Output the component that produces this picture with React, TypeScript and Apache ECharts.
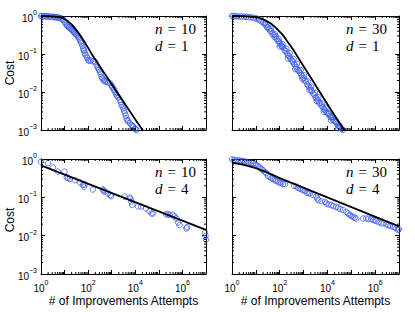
import React, { useEffect, useRef } from "react";
import * as echarts from "echarts";

// Panel meta
const panelN = ["10", "30", "10", "30"];
const panelD = ["1", "1", "4", "4"];

const xTickExponents = [0, 1, 2, 3, 4, 5, 6, 7];
const yTickExponents = [-3, -2, -1, 0];

// n=10, d=1
const p1Scatter: number[][] = [
  [1, 1], [1.1, 0.995], [1.26, 0.99], [1.45, 0.985], [1.7, 0.98], [1.95, 0.975], [2.2, 0.97], [2.6, 0.96],
  [3.1, 0.95], [3.6, 0.94], [4, 0.93], [4.5, 0.925], [5, 0.92], [5.6, 0.9], [6.3, 0.89], [7.2, 0.86],
  [8.3, 0.83], [9, 0.78], [10, 0.7], [11, 0.64], [12.3, 0.58], [13, 0.55], [14.5, 0.52], [15.5, 0.5],
  [17, 0.48], [18.5, 0.46], [20, 0.44], [21.5, 0.42], [23.4, 0.39], [25, 0.37], [27.5, 0.35], [30, 0.335],
  [32, 0.32], [35, 0.3], [38, 0.28], [41, 0.26], [45, 0.23], [48, 0.21], [52, 0.19], [57, 0.165],
  [62, 0.14], [65, 0.13], [68, 0.12], [72, 0.105], [78, 0.095], [87, 0.085], [93, 0.078], [100, 0.069],
  [112, 0.066], [132, 0.067], [160, 0.064], [195, 0.063], [229, 0.051], [250, 0.046], [269, 0.042],
  [290, 0.038], [316, 0.034], [340, 0.03], [372, 0.025], [400, 0.023], [437, 0.021], [470, 0.02],
  [513, 0.019], [603, 0.0186], [708, 0.0178], [832, 0.017], [977, 0.015], [1050, 0.0138], [1148, 0.0126],
  [1250, 0.0113], [1380, 0.0102], [1500, 0.0092], [1622, 0.0083], [1750, 0.0077], [1905, 0.0072],
  [2239, 0.0062], [2450, 0.0054], [2630, 0.0046], [2850, 0.0041], [3090, 0.0037], [3350, 0.0032],
  [3630, 0.0028], [3950, 0.0024], [4266, 0.002], [4600, 0.0018], [5012, 0.0017], [5888, 0.0015],
  [6918, 0.00135], [7500, 0.0013], [8128, 0.00123], [9550, 0.0011], [10400, 0.00105], [11220, 0.001],
];
const p1Line: number[][] = [
  [1, 1], [2, 0.995], [3.16, 0.98], [5, 0.95], [7.9, 0.89], [10, 0.83], [12.6, 0.76], [15.8, 0.68],
  [20, 0.6], [25, 0.51], [31.6, 0.43], [44.7, 0.32], [63, 0.23], [100, 0.145], [141, 0.1], [316, 0.047],
  [1000, 0.016], [1778, 0.0093], [3162, 0.0055], [10000, 0.0019], [25120, 0.00083],
];

// n=30, d=1
const p2Scatter: number[][] = [
  [1, 1], [1.12, 0.99], [1.32, 0.98], [1.58, 0.98], [2.0, 0.97], [2.5, 0.965], [3.2, 0.955], [4.0, 0.95],
  [5.0, 0.93], [6.3, 0.92], [7.9, 0.9], [10, 0.87], [12, 0.83], [14, 0.78], [16.6, 0.72], [20, 0.68],
  [23, 0.62], [26, 0.575], [29.5, 0.51], [33, 0.5], [36, 0.45], [40, 0.4], [45, 0.4], [50, 0.34],
  [55, 0.32], [60, 0.28], [68, 0.29], [74, 0.25], [83, 0.22], [93, 0.21], [105, 0.19], [115, 0.166],
  [126, 0.158], [141, 0.15], [158, 0.126], [178, 0.12], [200, 0.105], [224, 0.091], [251, 0.087],
  [282, 0.076], [316, 0.068], [355, 0.063], [398, 0.054], [447, 0.05], [501, 0.045], [562, 0.038],
  [631, 0.036], [708, 0.032], [794, 0.028], [891, 0.026], [1000, 0.023], [1122, 0.02], [1259, 0.019],
  [1413, 0.0158], [1585, 0.0145], [1778, 0.0132], [1995, 0.0115], [2239, 0.0105], [2512, 0.0091],
  [2818, 0.0085], [3162, 0.0072], [3548, 0.0068], [3981, 0.006], [4467, 0.0052], [5012, 0.005],
  [5623, 0.0044], [6310, 0.004], [7079, 0.0035], [7943, 0.0033], [8913, 0.003], [10000, 0.0028],
  [11220, 0.0026], [12590, 0.0023], [14125, 0.0022], [15850, 0.002], [17780, 0.0018], [19950, 0.0017],
  [22390, 0.0016], [25120, 0.00145], [28180, 0.0013], [31620, 0.00123], [35480, 0.00115],
  [39810, 0.00107], [44670, 0.001],
  [25, 0.66], [42, 0.47], [63, 0.33], [89, 0.25], [132, 0.18], [190, 0.138], [263, 0.105], [380, 0.074],
  [525, 0.055], [760, 0.038], [1050, 0.0275], [1510, 0.019], [2090, 0.0138], [3020, 0.0095],
  [4170, 0.0072], [6030, 0.005], [8320, 0.0038], [12020, 0.00275], [16600, 0.0022], [24000, 0.00166],
  [33100, 0.0013],
  [100, 0.158], [224, 0.076], [447, 0.04], [891, 0.022], [1778, 0.0112], [3548, 0.0058], [7079, 0.003],
  [14125, 0.0018], [28180, 0.00112],
];
const p2Line: number[][] = [
  [1, 1], [3.16, 0.99], [6.3, 0.965], [10, 0.93], [13, 0.9], [17, 0.85], [22, 0.8], [28, 0.74],
  [35, 0.68], [45, 0.62], [56, 0.55], [71, 0.48], [90, 0.41], [117, 0.35], [150, 0.29], [190, 0.234],
  [240, 0.19], [309, 0.152], [400, 0.12], [500, 0.095], [794, 0.06], [2089, 0.0229], [5495, 0.0087],
  [14450, 0.0033], [55000, 0.00091],
];

// n=10, d=4
const p3Scatter: number[][] = [
  [1.0, 0.85], [2.0, 0.78], [3.2, 0.6], [5.2, 0.47], [10, 0.47], [12.3, 0.33], [13.8, 0.32], [16.6, 0.3],
  [27, 0.28], [44, 0.245], [60, 0.21], [71, 0.22], [68, 0.19], [158, 0.16], [427, 0.16], [457, 0.15],
  [500, 0.14], [690, 0.126], [890, 0.115], [955, 0.107], [3550, 0.105], [5750, 0.098], [6300, 0.093],
  [6760, 0.078], [7400, 0.063], [12900, 0.058], [17800, 0.058], [28800, 0.051], [39800, 0.044],
  [49000, 0.038], [56000, 0.038], [204000, 0.036], [240000, 0.036], [282000, 0.035], [380000, 0.035],
  [468000, 0.032], [562000, 0.028], [661000, 0.022], [759000, 0.019], [1480000, 0.0155],
  [1580000, 0.0166], [8900000, 0.012], [9500000, 0.0098], [10000000, 0.0079],
];
const p3Line: number[][] = [
  [1, 0.68], [10000000, 0.0142],
];

// n=30, d=4
const p4Scatter: number[][] = [
  [1, 0.98], [1.2, 0.955], [1.45, 0.93], [1.74, 0.91], [2.1, 0.91], [2.5, 0.89], [3.0, 0.89], [3.6, 0.85],
  [4.4, 0.83], [5.2, 0.81], [6.3, 0.79], [7.6, 0.78], [8.9, 0.72], [10.5, 0.69], [12.3, 0.65], [14.5, 0.6],
  [17, 0.55], [20, 0.51], [23.4, 0.46], [27.5, 0.43], [32, 0.36], [38, 0.34], [45, 0.32], [52, 0.3],
  [62, 0.28], [72, 0.27], [85, 0.257], [100, 0.24], [117, 0.234], [141, 0.224], [166, 0.219], [398, 0.2],
  [501, 0.19], [589, 0.178], [692, 0.17], [813, 0.162], [955, 0.155], [1122, 0.148], [1349, 0.132],
  [1585, 0.132], [1820, 0.126], [2512, 0.115], [3388, 0.105], [3800, 0.093], [4170, 0.085], [5620, 0.079],
  [7940, 0.076], [8910, 0.069], [11200, 0.066], [14450, 0.063], [17800, 0.059], [23400, 0.056],
  [28200, 0.054], [33900, 0.05], [44700, 0.047], [61700, 0.042], [74100, 0.038], [85100, 0.035],
  [100000, 0.033], [117500, 0.031], [138000, 0.0295], [162000, 0.028], [316000, 0.028], [427000, 0.028],
  [525000, 0.0275], [692000, 0.027], [832000, 0.0257], [1000000, 0.025], [1120000, 0.024],
  [1410000, 0.0224], [1820000, 0.021], [2290000, 0.021], [3000000, 0.02], [3470000, 0.019],
  [4170000, 0.018], [5620000, 0.017], [6600000, 0.0166], [7760000, 0.0155], [9100000, 0.0141],
  [10000000, 0.0148],
];
const p4Line: number[][] = [
  [1, 0.8], [3.16, 0.7], [10, 0.58], [31.6, 0.44], [100, 0.316], [10000000, 0.0174],
];

const scatters = [p1Scatter, p2Scatter, p3Scatter, p4Scatter];
const lines = [p1Line, p2Line, p3Line, p4Line];

const grids = [
  { left: 41, top: 16, width: 165, height: 114 },
  { left: 232, top: 16, width: 167, height: 114 },
  { left: 41, top: 159, width: 165, height: 115 },
  { left: 232, top: 159, width: 167, height: 115 },
];

const BLUE = "#3a5cf2";
const FONT = "Liberation Sans";
const SERIF = "Liberation Serif";

const supRich = {
  b: { fontSize: 10, fontFamily: FONT, color: "#000", lineHeight: 14, verticalAlign: "bottom" as const },
  s: { fontSize: 7, fontFamily: FONT, color: "#000", lineHeight: 7, padding: [0, 0, 7, 0], verticalAlign: "bottom" as const },
};

function expOf(v: number) {
  return Math.round(Math.log10(v));
}
function fmtExp(e: number) {
  const s = e < 0 ? "\u2212" + Math.abs(e) : String(e);
  return "{b|10}{s|" + s + "}";
}

export default function App() {
  const ref = useRef<HTMLDivElement>(null);
  useEffect(() => {
    if (!ref.current) return;
    const chart = echarts.init(ref.current, undefined, { renderer: "svg" });

    const minorX: number[] = [];
    for (let e = xTickExponents[0]; e < xTickExponents[xTickExponents.length - 1]; e++) {
      for (let k = 2; k <= 9; k++) minorX.push(k * Math.pow(10, e));
    }
    const minorY: number[] = [];
    for (let e = yTickExponents[0]; e < yTickExponents[yTickExponents.length - 1]; e++) {
      for (let k = 2; k <= 9; k++) minorY.push(k * Math.pow(10, e));
    }

    const xAxes: any[] = [];
    const yAxes: any[] = [];
    const series: any[] = [];
    const tickStyle = { color: "#000", width: 1 };

    grids.forEach((g, i) => {
      const bottomRow = i >= 2;
      const leftCol = i % 2 === 0;
      const xBase = {
        gridIndex: i,
        type: "log",
        logBase: 10,
        min: 1,
        max: 1e7,
        interval: 1,
        axisLine: { show: true, lineStyle: { color: "#000", width: 1 } },
        axisTick: { show: true, inside: true, length: 4, lineStyle: tickStyle },
        splitLine: { show: false },
        minorTick: { show: false },
      };
      xAxes.push({
        ...xBase,
        position: "bottom",
        axisLabel: {
          show: bottomRow,
          margin: 5,
          formatter: (v: number) => {
            const e = expOf(v);
            return e % 2 === 0 ? fmtExp(e) : "";
          },
          rich: supRich,
        },
      });
      xAxes.push({ ...xBase, position: "top", axisLabel: { show: false } });
      const yBase = {
        gridIndex: i,
        type: "log",
        logBase: 10,
        min: 0.001,
        max: 1,
        interval: 1,
        axisLine: { show: true, lineStyle: { color: "#000", width: 1 } },
        axisTick: { show: true, inside: true, length: 4, lineStyle: tickStyle },
        splitLine: { show: false },
        minorTick: { show: false },
      };
      yAxes.push({
        ...yBase,
        position: "left",
        axisLabel: {
          show: leftCol,
          margin: 4,
          formatter: (v: number) => fmtExp(expOf(v)),
          rich: supRich,
        },
      });
      yAxes.push({ ...yBase, position: "right", axisLabel: { show: false } });

      series.push({
        type: "scatter",
        xAxisIndex: 2 * i,
        yAxisIndex: 2 * i,
        data: scatters[i],
        symbol: "circle",
        symbolSize: 5.5,
        clip: false,
        itemStyle: { color: "rgba(0,0,0,0)", borderColor: BLUE, borderWidth: 1 },
        z: 2,
      });
      series.push({
        type: "line",
        xAxisIndex: 2 * i,
        yAxisIndex: 2 * i,
        data: lines[i],
        smooth: false,
        showSymbol: false,
        symbol: "none",
        clip: true,
        lineStyle: { color: "#000", width: 1.8, join: "round" },
        z: 3,
      });
      series.push({
        type: "custom",
        xAxisIndex: 2 * i,
        yAxisIndex: 2 * i,
        silent: true,
        clip: false,
        z: 4,
        data: minorX.map((v) => [v, 0.01]),
        renderItem: (_p: any, api: any) => {
          const v = api.value(0);
          const b = api.coord([v, 0.001]);
          const t = api.coord([v, 1]);
          return {
            type: "group",
            children: [
              { type: "line", shape: { x1: b[0], y1: b[1], x2: b[0], y2: b[1] - 2 }, style: { stroke: "#000", lineWidth: 1 } },
              { type: "line", shape: { x1: t[0], y1: t[1], x2: t[0], y2: t[1] + 2 }, style: { stroke: "#000", lineWidth: 1 } },
            ],
          };
        },
      });
      series.push({
        type: "custom",
        xAxisIndex: 2 * i,
        yAxisIndex: 2 * i,
        silent: true,
        clip: false,
        z: 4,
        data: minorY.map((v) => [10, v]),
        renderItem: (_p: any, api: any) => {
          const v = api.value(1);
          const l = api.coord([1, v]);
          const r = api.coord([1e7, v]);
          return {
            type: "group",
            children: [
              { type: "line", shape: { x1: l[0], y1: l[1], x2: l[0] + 2, y2: l[1] }, style: { stroke: "#000", lineWidth: 1 } },
              { type: "line", shape: { x1: r[0], y1: r[1], x2: r[0] - 2, y2: r[1] }, style: { stroke: "#000", lineWidth: 1 } },
            ],
          };
        },
      });
    });

    const annRich = {
      i: { fontFamily: SERIF, fontStyle: "italic" as const, fontSize: 15, color: "#222" },
      e: { fontFamily: SERIF, fontSize: 15, color: "#222", padding: [0, 5, 0, 5] },
      r: { fontFamily: SERIF, fontSize: 15, color: "#222" },
    };
    const graphics: any[] = [];
    grids.forEach((g, i) => {
      const x = g.left + 114;
      graphics.push({
        type: "text",
        x,
        y: g.top + 13,
        style: { text: "{i|n}{e|=}{r|" + panelN[i] + "}", rich: annRich, verticalAlign: "middle", align: "left" },
      });
      graphics.push({
        type: "text",
        x,
        y: g.top + 30,
        style: { text: "{i|d}{e|=}{r|" + panelD[i] + "}", rich: annRich, verticalAlign: "middle", align: "left" },
      });
    });
    [73, 220].forEach((cy) => {
      graphics.push({
        type: "text",
        x: 10,
        y: cy,
        rotation: Math.PI / 2,
        style: { text: "Cost", fontFamily: FONT, fontSize: 12, fill: "#000", align: "center", verticalAlign: "middle" },
      });
    });
    [2, 3].forEach((i) => {
      const g = grids[i];
      graphics.push({
        type: "text",
        x: g.left + g.width / 2,
        y: 301,
        style: {
          text: "# of Improvements Attempts",
          fontFamily: FONT,
          fontSize: 12,
          fill: "#000",
          align: "center",
          verticalAlign: "middle",
        },
      });
    });

    chart.setOption({
      animation: false,
      backgroundColor: "#fff",
      grid: grids.map((g) => ({ ...g, containLabel: false })),
      xAxis: xAxes,
      yAxis: yAxes,
      series,
      graphic: graphics,
    });
    return () => chart.dispose();
  }, []);
  return (
    <div
      ref={ref}
      style={{ position: "fixed", left: 0, top: 0, width: 415, height: 312, background: "#fff" }}
    />
  );
}
